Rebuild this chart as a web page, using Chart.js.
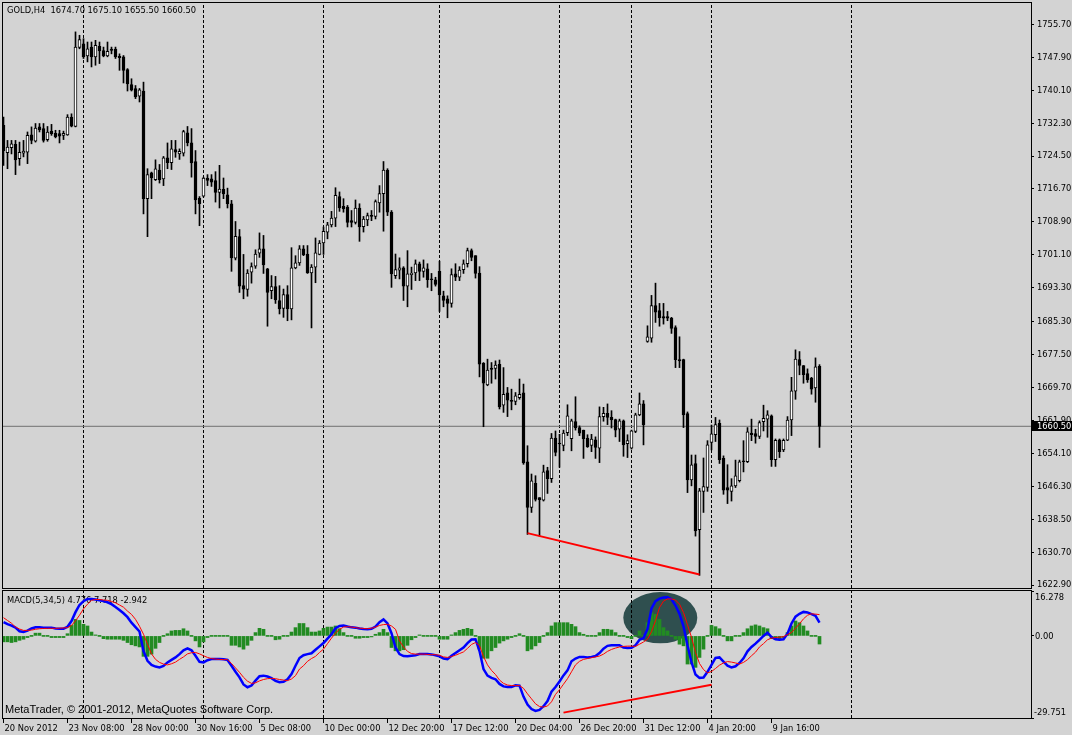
<!DOCTYPE html>
<html><head><meta charset="utf-8">
<script src="https://cdn.jsdelivr.net/npm/chart.js@4.4.0/dist/chart.umd.min.js"></script>
<style>
html,body{margin:0;padding:0;background:#D3D3D3;}
body{width:1072px;height:735px;position:relative;overflow:hidden;}
#c1{position:absolute;left:0;top:0;}
#c2{position:absolute;left:0;top:589px;}
</style></head><body>
<canvas id="c1" width="1072" height="589"></canvas>
<canvas id="c2" width="1072" height="146"></canvas>
<script>
// ---------- DATA ----------
const symbol = 'GOLD,H4';
const opens = [1731.8,1725.3,1726.5,1727.3,1723.9,1725.2,1725.4,1729.5,1728.0,1731.4,
1731.0,1728.4,1730.4,1729.9,1729.8,1729.4,1729.5,1733.7,1731.5,1750.2,
1751.1,1748.2,1750.3,1748.0,1750.5,1749.5,1748.2,1749.8,1749.8,1748.1,
1748.0,1745.0,1741.4,1740.5,1738.7,1739.9,1714.4,1720.5,1718.9,1721.2,
1719.1,1724.1,1722.9,1726.0,1725.0,1725.2,1730.0,1727.6,1723.2,1714.5,
1715.0,1719.3,1719.1,1718.7,1715.9,1716.6,1715.3,1713.2,1700.3,1705.4,
1693.8,1692.9,1697.0,1698.4,1701.5,1702.5,1697.8,1692.6,1693.6,1690.3,
1688.4,1691.7,1688.3,1698.0,1699.2,1702.5,1701.3,1696.8,1698.2,1701.2,
1703.9,1706.5,1708.2,1709.8,1714.9,1712.6,1712.4,1709.2,1708.8,1712.2,
1707.8,1709.4,1710.4,1710.2,1713.4,1715.6,1721.1,1711.2,1696.2,1697.5,
1698.0,1693.7,1696.4,1696.8,1699.0,1697.2,1697.8,1695.4,1695.2,1697.2,
1691.4,1690.7,1689.6,1696.6,1695.8,1697.6,1699.0,1702.1,1700.9,1696.8,
1675.4,1670.3,1674.3,1674.2,1675.2,1665.5,1668.4,1666.6,1666.4,1667.3,
1668.4,1652.1,1641.3,1647.0,1643.6,1643.0,1650.0,1648.1,1657.7,1656.5,
1656.0,1659.0,1657.6,1661.6,1660.2,1659.6,1657.7,1656.0,1657.3,1655.3,
1662.8,1663.6,1662.6,1662.1,1659.8,1661.8,1656.4,1655.3,1659.3,1663.2,
1665.8,1680.6,1681.4,1689.1,1687.9,1686.5,1686.5,1686.1,1683.9,1676.3,
1676.3,1663.5,1647.8,1651.7,1636.0,1645.1,1646.0,1656.7,1658.5,1661.2,
1652.9,1646.0,1645.1,1646.4,1647.6,1652.3,1652.1,1658.9,1658.8,1658.1,
1661.6,1662.2,1663.0,1652.6,1657.3,1654.9,1657.2,1662.0,1668.8,1676.3,
1674.9,1673.0,1671.9,1669.6,1674.7];
const highs = [1733.7,1728.2,1728.2,1728.2,1727.8,1728.2,1730.2,1731.4,1732.2,1732.2,
1732.2,1731.5,1732.0,1730.6,1730.6,1730.4,1734.3,1734.5,1753.9,1753.1,
1752.3,1751.5,1751.5,1751.9,1751.5,1750.3,1751.5,1750.3,1750.3,1748.7,
1748.3,1745.2,1742.8,1741.2,1740.5,1742.0,1721.5,1720.7,1723.6,1722.5,
1724.4,1727.6,1728.2,1728.2,1726.2,1730.6,1731.5,1731.0,1725.8,1714.9,
1719.5,1720.1,1720.1,1720.8,1722.3,1719.3,1716.9,1714.0,1709.0,1707.1,
1701.2,1697.6,1699.2,1702.3,1706.3,1705.7,1697.9,1696.2,1696.0,1693.8,
1693.0,1693.8,1702.8,1700.9,1703.3,1703.3,1703.3,1698.8,1705.1,1704.5,
1707.7,1708.8,1711.4,1717.0,1716.0,1714.4,1712.8,1711.6,1714.1,1713.2,
1710.2,1711.0,1711.6,1714.1,1717.5,1723.2,1721.5,1711.6,1701.3,1700.4,
1698.3,1702.1,1698.2,1699.9,1699.4,1699.9,1699.0,1696.7,1695.8,1699.6,
1692.5,1691.4,1697.8,1699.0,1698.3,1699.9,1702.7,1702.5,1700.9,1698.3,
1675.6,1676.4,1675.6,1676.0,1676.2,1674.4,1669.7,1669.3,1668.5,1671.7,
1670.5,1655.9,1649.2,1648.8,1643.6,1651.3,1650.8,1658.8,1659.4,1658.6,
1659.6,1665.6,1662.2,1667.5,1660.6,1659.6,1658.5,1658.6,1658.0,1665.1,
1665.0,1665.8,1664.2,1662.2,1662.2,1662.0,1658.5,1659.6,1663.6,1668.4,
1666.6,1684.3,1691.5,1694.4,1689.6,1689.6,1687.7,1686.3,1684.3,1681.7,
1676.4,1663.9,1653.7,1653.7,1645.8,1653.0,1657.1,1660.8,1662.6,1662.0,
1653.5,1651.4,1648.1,1652.5,1652.5,1657.1,1660.2,1662.2,1659.8,1661.8,
1665.5,1664.2,1663.2,1657.5,1657.5,1657.5,1662.8,1672.1,1678.6,1678.2,
1674.9,1674.1,1672.1,1676.7,1675.1];
const lows = [1722.3,1721.5,1725.0,1720.1,1722.3,1724.3,1722.7,1727.4,1727.8,1730.2,
1727.8,1728.0,1729.4,1728.8,1727.6,1728.4,1729.4,1731.4,1731.4,1749.9,
1747.6,1746.8,1745.6,1746.0,1746.4,1748.0,1748.0,1748.7,1747.6,1744.8,
1741.8,1739.9,1739.9,1738.1,1737.3,1710.8,1705.4,1714.4,1718.7,1718.1,
1717.5,1721.5,1721.3,1724.2,1723.7,1724.5,1726.9,1719.5,1710.8,1708.0,
1714.8,1717.5,1717.3,1713.6,1712.2,1714.4,1712.2,1697.2,1699.9,1692.2,
1690.7,1691.3,1694.4,1697.9,1700.5,1696.7,1684.2,1690.7,1689.6,1687.1,
1686.3,1685.5,1685.7,1697.8,1698.6,1700.9,1696.7,1683.8,1694.5,1701.1,
1701.2,1704.9,1707.7,1707.8,1711.4,1711.2,1707.7,1707.7,1708.4,1704.3,
1706.5,1708.0,1709.2,1709.6,1711.2,1706.7,1710.4,1693.4,1695.5,1695.4,
1690.3,1688.8,1692.9,1695.0,1695.0,1695.8,1693.4,1692.6,1693.7,1687.7,
1688.8,1686.2,1688.7,1695.0,1695.0,1696.7,1698.2,1699.7,1695.6,1672.2,
1660.4,1670.1,1670.7,1671.7,1664.6,1663.8,1662.8,1664.4,1665.6,1666.9,
1651.5,1634.9,1640.1,1642.8,1634.5,1642.8,1644.6,1647.2,1653.5,1650.8,
1654.7,1658.3,1654.7,1659.6,1658.3,1652.9,1655.5,1654.5,1652.9,1651.9,
1661.7,1660.9,1660.1,1658.0,1656.9,1653.4,1653.1,1655.1,1659.0,1663.0,
1656.1,1680.4,1680.4,1685.1,1684.2,1684.7,1685.5,1682.5,1674.4,1674.4,
1660.2,1644.8,1646.4,1634.5,1625.2,1640.1,1645.1,1654.9,1656.9,1651.7,
1644.4,1642.2,1642.8,1646.0,1647.3,1649.7,1651.9,1657.1,1656.5,1657.6,
1659.4,1657.9,1651.0,1651.0,1653.1,1654.5,1657.1,1658.3,1666.9,1672.7,
1670.7,1670.9,1668.1,1666.2,1655.5];
const closes = [1725.8,1726.6,1727.4,1723.6,1725.4,1725.7,1729.4,1728.2,1731.1,1730.7,
1728.2,1730.2,1729.8,1729.0,1729.2,1729.9,1733.7,1731.6,1750.3,1752.1,
1748.0,1749.9,1748.0,1750.7,1749.4,1748.2,1749.3,1749.5,1748.0,1747.8,
1744.8,1741.6,1740.1,1738.5,1740.2,1714.4,1720.1,1719.3,1721.5,1718.9,
1724.1,1722.9,1726.2,1725.4,1725.6,1730.3,1727.6,1722.9,1714.1,1713.2,
1719.3,1718.7,1718.3,1715.9,1716.7,1715.5,1713.2,1700.4,1705.5,1693.7,
1693.0,1696.8,1698.3,1701.3,1702.5,1698.7,1692.2,1693.6,1690.4,1688.3,
1691.7,1688.3,1698.0,1699.2,1702.5,1701.1,1696.8,1698.2,1701.6,1703.9,
1706.7,1708.2,1709.8,1715.2,1712.2,1712.0,1708.8,1708.8,1712.2,1707.7,
1709.6,1710.4,1710.2,1713.7,1715.6,1721.2,1711.2,1696.6,1697.6,1698.0,
1693.7,1696.6,1696.8,1699.0,1697.2,1698.0,1695.2,1695.2,1694.1,1691.6,
1690.3,1689.6,1696.4,1695.8,1697.5,1699.0,1702.1,1700.5,1696.7,1675.2,
1670.7,1673.8,1674.0,1675.0,1665.1,1668.1,1666.7,1666.4,1667.7,1668.1,
1651.8,1641.3,1647.6,1643.2,1643.1,1649.7,1648.1,1657.7,1654.3,1656.3,
1658.9,1663.0,1661.8,1660.1,1658.9,1657.5,1655.7,1657.5,1655.5,1662.8,
1663.6,1662.6,1662.0,1659.6,1661.8,1656.1,1657.1,1659.4,1663.2,1665.8,
1660.9,1681.7,1689.1,1687.5,1686.2,1686.1,1686.1,1683.7,1676.3,1676.0,
1663.2,1647.8,1651.4,1635.7,1645.2,1646.2,1656.1,1658.7,1660.9,1652.6,
1645.4,1645.4,1646.4,1648.8,1652.1,1652.1,1659.2,1658.5,1658.1,1661.4,
1662.4,1663.2,1652.6,1657.2,1654.5,1657.2,1662.0,1668.9,1676.4,1674.9,
1672.7,1671.5,1669.3,1674.6,1660.5];

const macdMain = [5.0,4.3,3.7,3.0,1.7,1.4,1.9,2.7,3.1,3.1,
3.0,3.0,3.0,2.7,2.6,2.6,3.3,5.4,8.6,11.2,
12.6,13.4,13.4,13.2,12.9,12.6,12.2,11.5,10.5,9.4,
8.2,6.8,4.8,3.2,1.6,-5.5,-9.0,-10.5,-11.1,-11.4,
-10.9,-9.6,-8.7,-7.8,-6.6,-5.2,-4.5,-5.2,-7.2,-9.4,
-9.6,-8.8,-8.4,-8.4,-8.4,-8.5,-8.7,-10.8,-13.0,-15.0,
-17.6,-18.6,-18.0,-16.2,-14.6,-14.4,-14.7,-15.3,-16.3,-16.8,
-16.6,-15.7,-13.8,-10.8,-8.0,-7.0,-6.6,-6.3,-5.0,-3.8,
-2.6,-1.0,0.6,2.8,3.6,3.8,3.4,3.1,3.0,2.7,
2.5,2.4,2.6,3.4,5.0,6.0,4.5,1.0,-4.2,-6.6,
-7.3,-7.4,-7.2,-7.0,-6.6,-6.6,-6.6,-6.7,-7.0,-7.4,
-8.2,-8.4,-7.2,-6.2,-5.2,-4.2,-2.6,-1.3,-1.2,-5.5,
-12.0,-14.4,-15.2,-15.7,-17.4,-18.3,-18.5,-18.5,-17.9,-18.0,
-22.0,-24.9,-26.5,-27.2,-26.8,-25.5,-23.6,-20.2,-18.5,-16.5,
-14.3,-12.5,-9.2,-8.2,-7.6,-7.6,-7.8,-7.6,-7.3,-6.2,
-4.6,-3.6,-3.4,-3.4,-3.4,-4.2,-4.4,-4.3,-3.4,-1.4,
-0.8,2.5,10.0,12.6,13.5,13.9,14.0,13.3,11.0,8.0,
3.5,-3.5,-9.5,-14.0,-15.2,-15.1,-13.0,-10.5,-8.0,-7.8,
-9.3,-10.8,-11.4,-11.0,-9.8,-8.1,-5.6,-4.0,-2.8,-1.4,
0.0,1.2,-0.4,-1.2,-1.4,-1.2,0.8,4.5,7.0,8.0,
8.7,8.5,7.9,7.3,4.776];
const macdSignal = [6.6,5.6,4.6,3.2,2.5,2.0,2.0,2.1,2.4,2.6,
2.7,2.75,2.75,2.75,2.8,2.9,3.0,3.8,5.5,7.5,
9.8,11.5,12.9,13.2,13.2,13.0,12.9,12.5,12.0,11.2,
10.4,9.0,7.8,6.0,3.5,0.6,-3.0,-6.5,-8.5,-9.6,
-10.2,-10.5,-10.1,-9.5,-8.5,-7.6,-6.5,-6.1,-6.0,-6.5,
-7.2,-7.8,-8.2,-8.4,-8.5,-8.6,-8.6,-10.0,-11.6,-13.2,
-15.0,-16.4,-17.2,-17.0,-16.3,-15.8,-15.5,-15.4,-15.5,-15.8,
-16.0,-16.2,-15.6,-14.4,-12.0,-10.8,-9.2,-8.2,-7.4,-6.0,
-4.8,-2.8,-0.8,1.0,2.4,3.2,3.35,3.2,3.0,2.8,
2.7,2.6,2.8,3.2,3.8,4.1,4.2,3.6,2.4,-1.8,
-4.0,-5.6,-6.4,-6.6,-6.6,-6.6,-6.7,-6.8,-6.8,-7.0,
-7.6,-7.8,-7.5,-7.0,-6.4,-5.8,-4.5,-3.1,-2.4,-3.5,
-7.5,-10.5,-12.5,-14.0,-16.0,-17.2,-17.8,-18.0,-18.0,-18.0,
-19.0,-21.0,-22.8,-24.6,-25.6,-25.8,-25.4,-23.9,-21.2,-19.5,
-17.5,-15.5,-13.0,-10.5,-9.2,-8.5,-8.2,-7.9,-7.6,-7.3,
-6.6,-5.6,-4.9,-4.4,-4.0,-3.8,-3.7,-3.7,-3.8,-3.0,
-2.2,-1.2,1.5,5.5,10.3,12.6,13.4,13.4,13.0,11.5,
8.5,4.0,-0.5,-6.0,-10.0,-12.2,-13.4,-12.9,-11.8,-10.6,
-9.8,-9.3,-9.5,-9.8,-10.2,-9.6,-8.6,-7.2,-5.9,-4.0,
-2.8,-1.4,-0.8,-0.6,-0.4,-0.3,0.5,1.2,2.8,4.4,
6.2,7.5,8.0,7.9,7.718];
const macdHist = [-2.15,-2.15,-2.4,-2.15,-1.6,-1.2,-0.6,0,1.0,1.0,
0,0,-0.6,-0.6,-0.6,-0.6,0.8,3.8,6.0,5.6,
4.2,3.6,1.4,0.2,0,-1.0,-1.2,-1.2,-1.2,-1.2,
-1.6,-2.4,-3.2,-3.6,-4.0,-7.4,-7.4,-6.6,-4.5,-2.4,
0,0.8,1.8,2.0,2.0,2.6,1.8,0,-1.8,-4.0,
-2.15,-0.6,0,0,0,0,0,-3.4,-3.4,-4.0,
-4.8,-3.4,-1.6,1.2,2.75,2.4,0,0,-1.4,-1.2,
0,0,1.4,3.0,4.5,4.5,3.0,1.4,1.4,1.8,
2.75,3.2,3.2,3.6,2.6,1.2,0,0,-0.85,-0.85,
-0.6,-0.6,-0.25,0.6,1.2,2.4,1.2,-4.2,-5.4,-5.4,
-5.0,-3.4,-1.4,-0.6,0.35,0,0,0,0,-1.2,
-1.2,-1.2,0.35,1.2,2.0,2.4,2.75,2.4,0,-4.8,
-8.1,-8.1,-5.4,-4.2,-2.6,-1.8,-1.2,-0.6,0,0.8,
0,-5.4,-4.8,-3.6,-2.4,0,1.2,3.6,4.8,4.8,
4.8,4.8,4.2,3.35,1.2,0.6,0,0,0,1.2,
2.4,2.4,2.15,1.2,0,0,-0.6,-1.0,0,1.8,
0,4.8,8.4,7.8,6.0,3.0,1.8,0,-1.2,-3.0,
-3.6,-10.2,-10.2,-11.4,-7.8,-4.8,0,3.8,3.35,2.6,
0,-1.8,-1.8,0,0,1.2,2.6,3.6,4.0,3.6,
3.0,2.6,-1.0,-1.2,-1.2,-0.6,1.2,3.6,5.4,4.8,
3.6,1.8,0,0,-2.942];

const xLabels = ['20 Nov 2012','23 Nov 08:00','28 Nov 00:00','30 Nov 16:00','5 Dec 08:00','10 Dec 00:00','12 Dec 20:00','17 Dec 12:00','20 Dec 04:00','26 Dec 20:00','31 Dec 12:00','4 Jan 20:00','9 Jan 16:00'];
const xLabelBars = [0,16,32,48,64,80,96,112,128,144,160,176,192];
const gridBars = [20,50,80,109,139,157,177,212];
const priceTicks = [1622.90,1630.70,1638.50,1646.30,1654.10,1661.90,1669.70,1677.50,1685.30,1693.30,1701.10,1708.90,1716.70,1724.50,1732.30,1740.10,1747.90,1755.70];
const macdTicks = [16.278, 0, -29.751];
const trendPriceBars = [131, 174];
const trendPriceValues = [1635.2, 1625.4];
const trendMacdBars = [140, 177];
const trendMacdValues = [-27.8, -17.7];
const ellipseBar = 164.2, ellipseValue = 6.6, ellipseHalfBars = 9.25, ellipseHalfValue = 9.3;

const last = opens.length - 1;
const headerText = symbol + '  ' + [opens[last], highs[last], lows[last], closes[last]].map(v => v.toFixed(2)).join(' ');

// ---------- FONT PICK (narrow UI font like MT4's) ----------
function hasFont(name) {
  const c = document.createElement('canvas').getContext('2d');
  const s = 'mmmmmmmmmmlli1234567890WMWabc';
  let diff = false;
  ['monospace', 'serif'].forEach(g => {
    c.font = '20px ' + g; const a = c.measureText(s).width;
    c.font = '20px "' + name + '", ' + g; const b = c.measureText(s).width;
    if (Math.abs(a - b) > 0.1) diff = true;
  });
  return diff;
}
const candidates = ['Liberation Sans Narrow', 'Arial Narrow', 'DejaVu Sans Condensed', 'Liberation Sans'];
let FAMILY = 'Liberation Sans';
for (const f of candidates) { if (hasFont(f)) { FAMILY = f; break; } }
const FONT = '"' + FAMILY + '", "Liberation Sans", Arial, sans-serif';
let FSIZE = 11;
(function fit() {
  const c = document.createElement('canvas').getContext('2d');
  let best = 11, bestErr = 1e9;
  for (let s = 8; s <= 13.01; s += 0.25) {
    c.font = s + 'px ' + FONT;
    const err = Math.abs(c.measureText(headerText).width - 188);
    if (err < bestErr) { bestErr = err; best = s; }
  }
  FSIZE = best;
})();

// ---------- SETUP ----------
Chart.defaults.font.family = FONT;
Chart.defaults.font.size = FSIZE;
Chart.defaults.color = '#000';
const X_MIN = -0.125, X_MAX = 256.875;
const P_MIN = 1622.21, P_MAX = 1760.74;
const M_MIN = -29.751, M_MAX = 16.278;
const idx = opens.map((_, i) => i);

function gridData(lo, hi) {
  const d = [];
  gridBars.forEach(g => { d.push({x: g, y: lo}, {x: g, y: hi}, {x: g, y: null}); });
  return d;
}
const framePlugin = {
  id: 'frame',
  afterDatasetsDraw(chart) {
    const {ctx, chartArea: a} = chart;
    ctx.save(); ctx.strokeStyle = '#000'; ctx.lineWidth = 1;
    ctx.strokeRect(a.left - 0.5, a.top - 0.5, a.right - a.left + 1, a.bottom - a.top + 1);
    ctx.restore();
  }
};
const baseX = { type: 'linear', min: X_MIN, max: X_MAX, offset: false, display: false };
const common = {
  responsive: false, animation: false, devicePixelRatio: 1, events: [],
  plugins: { legend: { display: false }, tooltip: { enabled: false } }
};

// ---------- PRICE CHART ----------
const pricePlugin = {
  id: 'priceText',
  afterDraw(chart) {
    const ctx = chart.ctx;
    ctx.save();
    ctx.font = FSIZE + 'px ' + FONT; ctx.fillStyle = '#000'; ctx.textBaseline = 'middle';
    ctx.fillText(headerText, 7, 10.5);
    const y = Math.round(chart.scales.y.getPixelForValue(closes[last]));
    ctx.fillStyle = '#000'; ctx.fillRect(1032, y - 5, 40, 10);
    ctx.fillStyle = '#fff'; ctx.fillText(closes[last].toFixed(2), 1037, y + 0.5);
    ctx.restore();
  }
};
new Chart(document.getElementById('c1'), {
  type: 'bar',
  data: { datasets: [
    { type: 'line', order: 6, data: gridData(P_MIN, P_MAX), borderColor: '#000', borderWidth: 1, borderDash: [3, 2], pointRadius: 0, spanGaps: false },
    { type: 'line', order: 5, data: [{x: X_MIN, y: closes[last]}, {x: X_MAX, y: closes[last]}], borderColor: '#707070', borderWidth: 1, pointRadius: 0 },
    { type: 'bar', order: 4, grouped: false, barThickness: 1, data: idx.map(i => ({x: i, y: [lows[i], highs[i]]})), backgroundColor: '#000', borderWidth: 0 },
    { type: 'bar', order: 3, grouped: false, barThickness: 3, minBarLength: 1, data: idx.map(i => ({x: i, y: [opens[i], closes[i]]})),
      backgroundColor: idx.map(i => closes[i] > opens[i] ? '#FFFFFF' : '#000000'), borderColor: '#000', borderWidth: 1, borderSkipped: false },
    { type: 'line', order: 1, data: trendPriceBars.map((b, k) => ({x: b, y: trendPriceValues[k]})), borderColor: '#FF0000', borderWidth: 2, pointRadius: 0 }
  ]},
  options: Object.assign({}, common, {
    layout: { padding: { left: 3, top: 3, right: 0, bottom: 1 } },
    scales: {
      x: baseX,
      y: { type: 'linear', position: 'right', min: P_MIN, max: P_MAX,
        afterBuildTicks: s => { s.ticks = priceTicks.map(v => ({value: v})); },
        afterFit: s => { s.width = 41; s.paddingTop = 0; s.paddingBottom = 0; },
        grid: { drawOnChartArea: false, tickLength: 3, color: '#000' },
        border: { display: false },
        ticks: { padding: 3, color: '#000', font: { size: FSIZE, family: FONT }, callback: v => Number(v).toFixed(2) } }
    }
  }),
  plugins: [framePlugin, pricePlugin]
});

// ---------- MACD CHART ----------
const macdPlugin = {
  id: 'macdText',
  beforeDatasetsDraw(chart) {
    const {ctx, scales: {x, y}} = chart;
    const cx = x.getPixelForValue(ellipseBar), cy = y.getPixelForValue(ellipseValue);
    const rx = x.getPixelForValue(ellipseBar + ellipseHalfBars) - cx;
    const ry = y.getPixelForValue(ellipseValue - ellipseHalfValue) - cy;
    ctx.save();
    ctx.fillStyle = '#2F4F4F'; ctx.beginPath(); ctx.ellipse(cx, cy, rx, ry, 0, 0, Math.PI * 2); ctx.fill();
    ctx.fillStyle = '#000'; ctx.textBaseline = 'middle';
    ctx.font = FSIZE + 'px ' + FONT;
    ctx.fillText('MACD(5,34,5) ' + macdMain[last].toFixed(3) + ' ' + macdSignal[last].toFixed(3) + ' ' + macdHist[last].toFixed(3), 7, 12);
    ctx.font = "11px 'Liberation Sans', Arial, sans-serif";
    ctx.fillText('MetaTrader, \u00A9 2001-2012, MetaQuotes Software Corp.', 5, 121);
    ctx.restore();
  },
  afterDraw(chart) {
    const {ctx, scales: {y}} = chart;
    ctx.save(); ctx.fillStyle = '#000'; ctx.font = FSIZE + 'px ' + FONT;
    ctx.textBaseline = 'top'; ctx.fillText(macdTicks[0].toFixed(3), 1035, y.top + 2);
    ctx.textBaseline = 'middle'; ctx.fillText(macdTicks[1].toFixed(2), 1035, y.getPixelForValue(macdTicks[1]) + 0.5);
    ctx.textBaseline = 'bottom'; ctx.fillText(macdTicks[2].toFixed(3), 1034, y.bottom - 1);
    ctx.restore();
  }
};
new Chart(document.getElementById('c2'), {
  type: 'bar',
  data: { datasets: [
    { type: 'line', order: 6, data: gridData(M_MIN, M_MAX), borderColor: '#000', borderWidth: 1, borderDash: [3, 2], pointRadius: 0, spanGaps: false },
    { type: 'bar', order: 5, grouped: false, barThickness: 3, minBarLength: 1, data: idx.map(i => ({x: i, y: macdHist[i]})), backgroundColor: '#228B22', borderWidth: 0 },
    { type: 'line', order: 4, data: trendMacdBars.map((b, k) => ({x: b, y: trendMacdValues[k]})), borderColor: '#FF0000', borderWidth: 2, pointRadius: 0 },
    { type: 'line', order: 3, data: idx.map(i => ({x: i, y: macdMain[i]})), borderColor: '#0000FF', borderWidth: 2.5, pointRadius: 0, tension: 0 },
    { type: 'line', order: 2, data: idx.map(i => ({x: i, y: macdSignal[i]})), borderColor: '#FF0000', borderWidth: 1, pointRadius: 0, tension: 0 }
  ]},
  options: Object.assign({}, common, {
    layout: { padding: { left: 3, top: 2, right: 0, bottom: 0 } },
    scales: {
      x: { type: 'linear', position: 'bottom', min: X_MIN, max: X_MAX, offset: false,
        afterBuildTicks: s => { s.ticks = xLabelBars.map(v => ({value: v})); },
        afterFit: s => { s.height = 17; s.paddingLeft = 0; s.paddingRight = 0; },
        grid: { drawOnChartArea: false, tickLength: 5, color: '#000', offset: false },
        border: { display: false },
        ticks: { autoSkip: false, maxRotation: 0, minRotation: 0, align: 'start', padding: 0, labelOffset: 1, color: '#000',
          font: { size: FSIZE, family: FONT }, callback: (v, i) => xLabels[i] } },
      y: { type: 'linear', position: 'right', min: M_MIN, max: M_MAX,
        afterBuildTicks: s => { s.ticks = macdTicks.map(v => ({value: v})); },
        afterFit: s => { s.width = 41; s.paddingTop = 0; s.paddingBottom = 0; },
        grid: { drawOnChartArea: false, tickLength: 3, color: '#000' },
        border: { display: false },
        ticks: { display: false } }
    }
  }),
  plugins: [framePlugin, macdPlugin]
});
</script>
</body></html>
